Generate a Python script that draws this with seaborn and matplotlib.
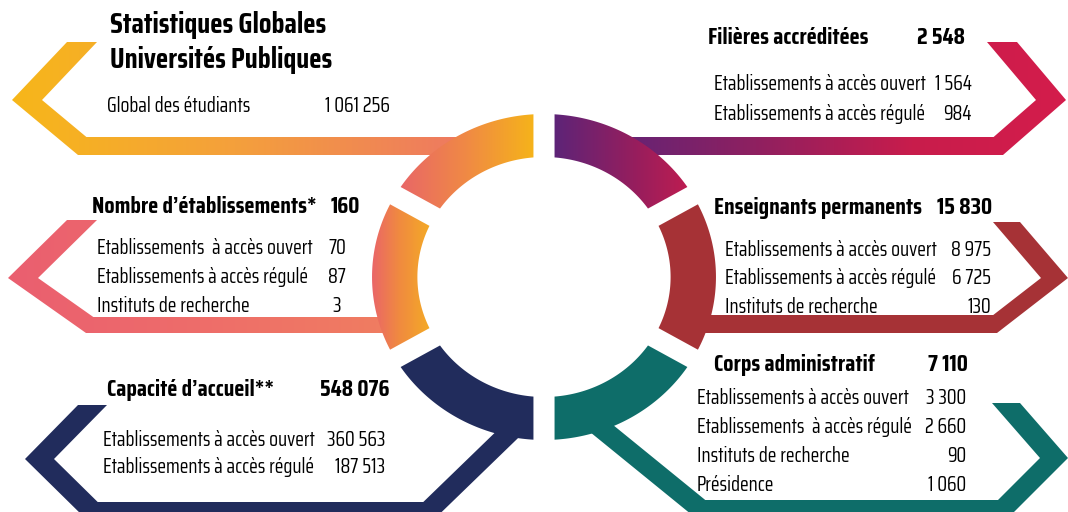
import numpy as np
import seaborn as sns
import matplotlib.pyplot as plt
from matplotlib import font_manager as fm
from matplotlib.patches import Polygon
from matplotlib.colors import LinearSegmentedColormap

# -----------------------------------------------------------------------------
# Data
# -----------------------------------------------------------------------------
main_title = ["Statistiques Globales", "Universités Publiques"]
global_label = "Global des étudiants"
global_value = "1 061 256"

fil_title, fil_total = "Filières accréditées", "2 548"
fil_labels = ["Etablissements à accès ouvert", "Etablissements à accès régulé"]
fil_values = ["1 564", "984"]

etab_title, etab_total = "Nombre d\u2019établissements*", "160"
etab_labels = ["Etablissements  à accès ouvert", "Etablissements à accès régulé",
               "Instituts de recherche"]
etab_values = ["70", "87", "3"]

ens_title, ens_total = "Enseignants permanents", "15 830"
ens_labels = ["Etablissements à accès ouvert", "Etablissements à accès régulé",
              "Instituts de recherche"]
ens_values = ["8 975", "6 725", "130"]

cap_title, cap_total = "Capacité d\u2019accueil**", "548 076"
cap_labels = ["Etablissements à accès ouvert", "Etablissements à accès régulé"]
cap_values = ["360 563", "187 513"]

adm_title, adm_total = "Corps administratif", "7 110"
adm_labels = ["Etablissements à accès ouvert", "Etablissements  à accès régulé",
              "Instituts de recherche", "Présidence"]
adm_values = ["3 300", "2 660", "90", "1 060"]

# colours
c_yellow = ["#f7b818", "#f4a03c", "#ee7862"]
c_purple = ["#5e2478", "#8f2060", "#c81c4c", "#d41d4b"]
c_pink = ["#ea5e70", "#ee6d6a", "#f07e60"]
c_red = "#a63236"
c_navy = "#212c5c"
c_teal = "#0e6d69"

sns.set_theme(style="white")

# pick a condensed family that is installed
names = {f.name for f in fm.fontManager.ttflist}
family = next(f for f in ["Saira Extra Condensed", "Saira Condensed", "Barlow Condensed",
                          "Roboto Condensed", "Oswald", "DejaVu Sans"] if f in names)
plt.rcParams["font.family"] = [family, "DejaVu Sans"]

fig = plt.figure(figsize=(10.68, 5.12), dpi=100)
ax = fig.add_axes([0, 0, 1, 1])
ax.set_xlim(0, 1068)
ax.set_ylim(512, 0)
ax.axis("off")
renderer = fig.canvas.get_renderer()


def fit_size(s, bold, width_px):
    t = fig.text(0, 0, s, fontsize=10, fontweight="bold" if bold else "normal")
    w = t.get_window_extent(renderer).width
    t.remove()
    return 10 * width_px / w


size_sub = fit_size("Etablissements à accès ouvert", False, 212)
size_head = fit_size("Enseignants permanents", True, 207)
size_main = fit_size("Statistiques Globales", True, 216)


def grad_fill(poly, colors, x0, x1, z=1):
    patch = Polygon(poly, closed=True, fc="none", ec="none")
    ax.add_patch(patch)
    if isinstance(colors, str):
        patch.set_facecolor(colors)
        patch.set_zorder(z)
        return
    cmap = LinearSegmentedColormap.from_list("g", colors)
    ys = [p[1] for p in poly]
    im = ax.imshow(np.linspace(0, 1, 256)[None, :], cmap=cmap, aspect="auto",
                   extent=(x0, x1, max(ys), min(ys)), zorder=z,
                   interpolation="bilinear")
    im.set_clip_path(patch)


def chevron(tx, ty, d, h, top_y, a, bot_y, b, w, end_x):
    # d = +1 arrow points left, d = -1 arrow points right
    xi = tx + d * (h + b * (bot_y - w - ty) / (bot_y - ty))
    return [(tx + d * a, top_y), (tx, ty), (tx + d * b, bot_y), (end_x, bot_y),
            (end_x, bot_y - w), (xi, bot_y - w), (tx + d * h, ty),
            (tx + d * (a + h), top_y)]


def band(p0, p1, w):
    p0, p1 = np.array(p0, float), np.array(p1, float)
    v = p1 - p0
    n = np.array([-v[1], v[0]]) / np.hypot(*v) * w / 2
    return [tuple(p0 + n), tuple(p1 + n), tuple(p1 - n), tuple(p0 - n)]


# arrows
grad_fill(chevron(12, 100, 1, 30, 42, 55, 155, 66, 18, 470), c_yellow, 0, 470)
grad_fill(chevron(1066, 100, -1, 30, 42, 49, 155, 63, 18, 600), c_purple, 600, 1068)
grad_fill(chevron(8, 278, 1, 30, 220, 59, 333, 78, 16, 400), c_pink, 0, 400)
grad_fill(chevron(1068, 278, -1, 27, 222, 48, 333, 71, 18, 690), c_red, 690, 1068)
grad_fill(chevron(25, 459, 1, 29, 405, 53, 520, 62, 18, 428), c_navy, 0, 430)
grad_fill(band((417, 522), (512, 430), 20), c_navy, 400, 520)
grad_fill(chevron(1068, 458, -1, 28, 403, 48, 518, 60, 18, 705), c_teal, 700, 1068)
grad_fill(band((596, 424), (714, 520), 20), c_teal, 590, 720)

# ring
cx, cy, R, r, sx, gap = 544, 277, 163, 120, 1.055, 20


def segment(a0, a1):
    pts = []
    for rad, rev in ((R, False), (r, True)):
        da = np.degrees(np.arcsin(gap / 2 / rad))
        t = np.radians(np.linspace(a0 + da, a1 - da, 60))
        arc = [(cx + sx * rad * np.cos(k), cy - rad * np.sin(k)) for k in t]
        pts += arc[::-1] if rev else arc
    return pts


ring = [((90, 150), ["#e8646a", "#f08a44", "#f6b716"], 395, 540),
        ((30, 90), ["#5a2479", "#951e5e", "#d21c4a"], 550, 716),
        ((150, 210), ["#e9606e", "#f08a40", "#f4aa26"], 368, 430),
        ((-30, 30), c_red, 650, 720),
        ((210, 270), c_navy, 370, 545),
        ((270, 330), c_teal, 545, 720)]
for (a0, a1), col, x0, x1 in ring:
    grad_fill(segment(a0, a1), col, x0, x1, z=3)


# text
def txt(x, y, s, size=None, bold=False, ha="left"):
    ax.text(x, y, s, fontsize=size or size_sub,
            fontweight="bold" if bold else "normal",
            ha=ha, va="center", color="black", zorder=5)


txt(110, 25, main_title[0], size_main, True)
txt(110, 60, main_title[1], size_main, True)
txt(107, 106, global_label)
txt(390, 106, global_value, ha="right")

txt(708, 38, fil_title, size_head, True)
txt(965, 38, fil_total, size_head, True, ha="right")
for i, (lab, val) in enumerate(zip(fil_labels, fil_values)):
    txt(714, 84 + 30 * i, lab)
    txt(972, 84 + 30 * i, val, ha="right")

txt(92, 207, etab_title, size_head, True)
txt(360, 207, etab_total, size_head, True, ha="right")
for i, (lab, val) in enumerate(zip(etab_labels, etab_values)):
    txt(97, 248 + 29 * i, lab)
    txt(337, 248 + 29 * i, val, ha="center")

txt(714, 208, ens_title, size_head, True)
txt(992, 208, ens_total, size_head, True, ha="right")
for i, (lab, val) in enumerate(zip(ens_labels, ens_values)):
    txt(725, 250 + 28.5 * i, lab)
    txt(991, 250 + 28.5 * i, val, ha="right")

txt(107, 390, cap_title, size_head, True)
txt(390, 390, cap_total, size_head, True, ha="right")
for i, (lab, val) in enumerate(zip(cap_labels, cap_values)):
    txt(103, 440 + 27 * i, lab)
    txt(385, 440 + 27 * i, val, ha="right")

txt(714, 365, adm_title, size_head, True)
txt(968, 365, adm_total, size_head, True, ha="right")
for i, (lab, val) in enumerate(zip(adm_labels, adm_values)):
    txt(697, 398 + 29 * i, lab)
    txt(966, 398 + 29 * i, val, ha="right")

ax.set_xlim(0, 1068)
ax.set_ylim(512, 0)
fig.savefig("out.png", dpi=100, facecolor="white")
